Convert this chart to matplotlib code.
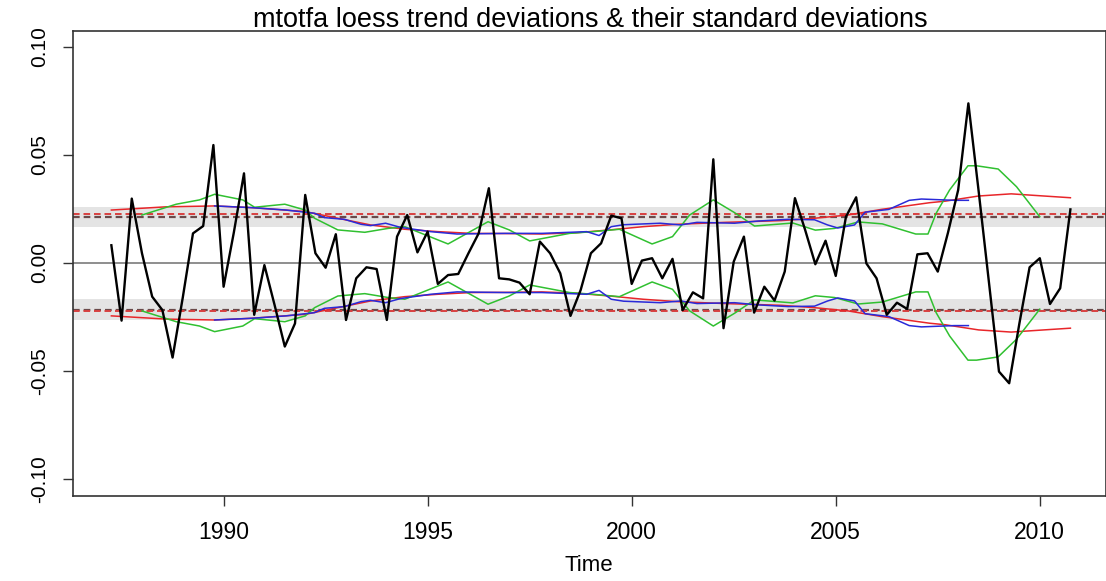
"""
plot.py  -  mtotfa loess trend deviations with rolling standard deviation bands
================================================================================
Quarterly deviations from the loess trend (black) together with three
rolling standard deviation estimates drawn as +/- envelopes, a grey band
and dashed reference levels. Saved as out.png.
"""

import matplotlib

matplotlib.use("Agg")
import matplotlib.pyplot as plt
import numpy as np

# ---------------------------------------------------------------------------
# Data
# ---------------------------------------------------------------------------
START_YEAR = 1987.25
deviations = [
    0.0082, -0.0267, 0.0298, 0.0045, -0.0156, -0.0218, -0.0438, -0.0160,
    0.0137, 0.0171, 0.0546, -0.0110, 0.0140, 0.0415, -0.0240, -0.0010,
    -0.0195, -0.0387, -0.0280, 0.0315, 0.0045, -0.0022, 0.0133, -0.0264,
    -0.0071, -0.0020, -0.0028, -0.0264, 0.0122, 0.0222, 0.0049, 0.0145,
    -0.0097, -0.0056, -0.0051, 0.0045, 0.0137, 0.0346, -0.0071, -0.0076,
    -0.0091, -0.0145, 0.0099, 0.0045, -0.0048, -0.0245, -0.0125, 0.0045,
    0.0091, 0.0219, 0.0207, -0.0097, 0.0011, 0.0022, -0.0071, 0.0019,
    -0.0218, -0.0136, -0.0164, 0.0480, -0.0302, 0.0006, 0.0122, -0.0230,
    -0.0110, -0.0174, -0.0040, 0.0300, 0.0153, -0.0006, 0.0103, -0.0060,
    0.0214, 0.0304, -0.0002, -0.0071, -0.0240, -0.0184, -0.0213, 0.0040,
    0.0045, -0.0040, 0.0140, 0.0338, 0.0739, 0.0335, -0.0083, -0.0503,
    -0.0557, -0.0280, -0.0020, 0.0022, -0.0190, -0.0117, 0.0248,
]

# rolling standard deviations: (time, value) knots
red_t = [1987.25, 1988.6, 1989.78, 1990.7, 1992.0, 1992.8, 1993.6, 1994.44,
         1995.25, 1996.07, 1997.0, 1997.8, 1998.65, 1999.46, 2000.28, 2001.1,
         2002.28, 2003.66, 2004.48, 2005.3, 2006.12, 2007.3, 2007.68, 2008.5,
         2009.3, 2010.1, 2010.75]
red_sd = [0.0245, 0.0260, 0.0264, 0.0256, 0.0238, 0.0207, 0.0176, 0.0156,
          0.0145, 0.0137, 0.0136, 0.0134, 0.0140, 0.0153, 0.0168, 0.0179,
          0.0188, 0.0196, 0.0207, 0.0222, 0.0248, 0.0279, 0.0286, 0.0310,
          0.0320, 0.0310, 0.0302]

blue_t = [1989.78, 1990.71, 1991.53, 1992.23, 1992.47, 1992.96, 1993.37,
          1993.6, 1993.97, 1994.33, 1995.07, 1995.72, 1996.9, 1997.8, 1998.9,
          1999.2, 1999.5, 1999.8, 2000.7, 2001.2, 2001.6, 2002.52, 2003.09,
          2003.83, 2004.48, 2004.8, 2005.05, 2005.46, 2005.72, 2006.3,
          2006.8, 2007.1, 2007.9, 2008.25]
blue_sd = [0.0264, 0.0256, 0.0245, 0.0230, 0.0210, 0.0202, 0.0179, 0.0173,
           0.0184, 0.0165, 0.0145, 0.0134, 0.0137, 0.0137, 0.0145, 0.0127,
           0.0168, 0.0177, 0.0184, 0.0176, 0.0188, 0.0184, 0.0194, 0.0202,
           0.0200, 0.0176, 0.0162, 0.0176, 0.0235, 0.0248, 0.0290, 0.0296,
           0.0290, 0.0290]

green_t = [1988.0, 1988.84, 1989.41, 1989.78, 1990.47, 1990.76, 1991.5,
           1992.0, 1992.23, 1992.8, 1993.46, 1994.03, 1994.44, 1995.5,
           1996.48, 1997.0, 1997.5, 1998.48, 1999.05, 1999.7, 2000.5, 2001.0,
           2001.42, 2002.0, 2002.52, 2003.01, 2003.95, 2004.5, 2004.97,
           2005.55, 2006.14, 2006.96, 2007.26, 2007.46, 2007.79, 2008.24,
           2008.45, 2008.98, 2009.43, 2010.0]
green_sd = [0.0222, 0.0272, 0.0292, 0.0318, 0.0292, 0.0258, 0.0272, 0.0245,
            0.0207, 0.0153, 0.0142, 0.0160, 0.0168, 0.0088, 0.0191, 0.0153,
            0.0102, 0.0137, 0.0145, 0.0156, 0.0088, 0.0122, 0.0222, 0.0292,
            0.0233, 0.0171, 0.0185, 0.0152, 0.0160, 0.0190, 0.0181, 0.0134,
            0.0134, 0.0230, 0.0338, 0.0450, 0.0450, 0.0435, 0.0353, 0.0214]

# reference levels
band_upper = (0.0165, 0.0261)
band_lower = (-0.0264, -0.0168)
dash_red = (0.0227, -0.0223)
dash_grey = (0.0214, -0.0216)

x_ticks = [1990, 1995, 2000, 2005, 2010]
y_ticks = [-0.10, -0.05, 0.00, 0.05, 0.10]
y_tick_labels = ["-0.10", "-0.05", "0.00", "0.05", "0.10"]

# ---------------------------------------------------------------------------
# Figure
# ---------------------------------------------------------------------------
plt.rcParams["font.family"] = ["Liberation Sans", "DejaVu Sans"]

W, H = 1106, 581
fig = plt.figure(figsize=(W / 100, H / 100), dpi=100)
left, right, top, bottom = 73, 1105.5, 31, 496
ax = fig.add_axes([left / W, 1 - bottom / H, (right - left) / W, (bottom - top) / H])

time = START_YEAR + 0.25 * np.arange(len(deviations))

for lo, hi in (band_upper, band_lower):
    ax.axhspan(lo, hi, color="#e4e4e4", lw=0, zorder=0)
ax.axhline(0, color="#707070", lw=1.1, zorder=1)
for y in dash_grey:
    ax.axhline(y, color="#6a4a4a", lw=1.6, ls=(0, (3.0, 1.8)), zorder=2)
for y in dash_red:
    ax.axhline(y, color="#d84040", lw=1.4, ls=(0, (3.4, 2.0)), zorder=2)

ax.plot(time, deviations, color="black", lw=1.7, zorder=5)

sd_lines = (
    (red_t, red_sd, "#e8262a", 4.0),
    (blue_t, blue_sd, "#2a2ad8", 4.5),  # blue sits on top of red
    (green_t, green_sd, "#30c030", 4.2),
)
for t, sd, col, z in sd_lines:
    sd = np.asarray(sd)
    ax.plot(t, sd, color=col, lw=1.1, zorder=z)
    ax.plot(t, -sd, color=col, lw=1.1, zorder=z)

ax.set_xlim(1986.31, 2011.61)
ax.set_ylim(-0.1079, 0.1074)
ax.set_xticks(x_ticks)
ax.set_yticks(y_ticks, labels=y_tick_labels)
ax.tick_params(axis="both", direction="out", length=7, width=1,
               color="#333333")
ax.tick_params(axis="x", pad=11, labelsize=16.5)
ax.tick_params(axis="y", pad=10, labelsize=15)
for lab in ax.get_yticklabels():
    lab.set_rotation(90)
    lab.set_va("center")

for sp in ax.spines.values():
    sp.set_color("#333333")
    sp.set_linewidth(1.2)

ax.set_xlabel("Time", fontsize=16, labelpad=8)
fig.text(590 / W, 1 - 27 / H, "mtotfa loess trend deviations & their standard deviations",
         ha="center", va="baseline", fontsize=19.5)

fig.savefig("out.png", dpi=100)
